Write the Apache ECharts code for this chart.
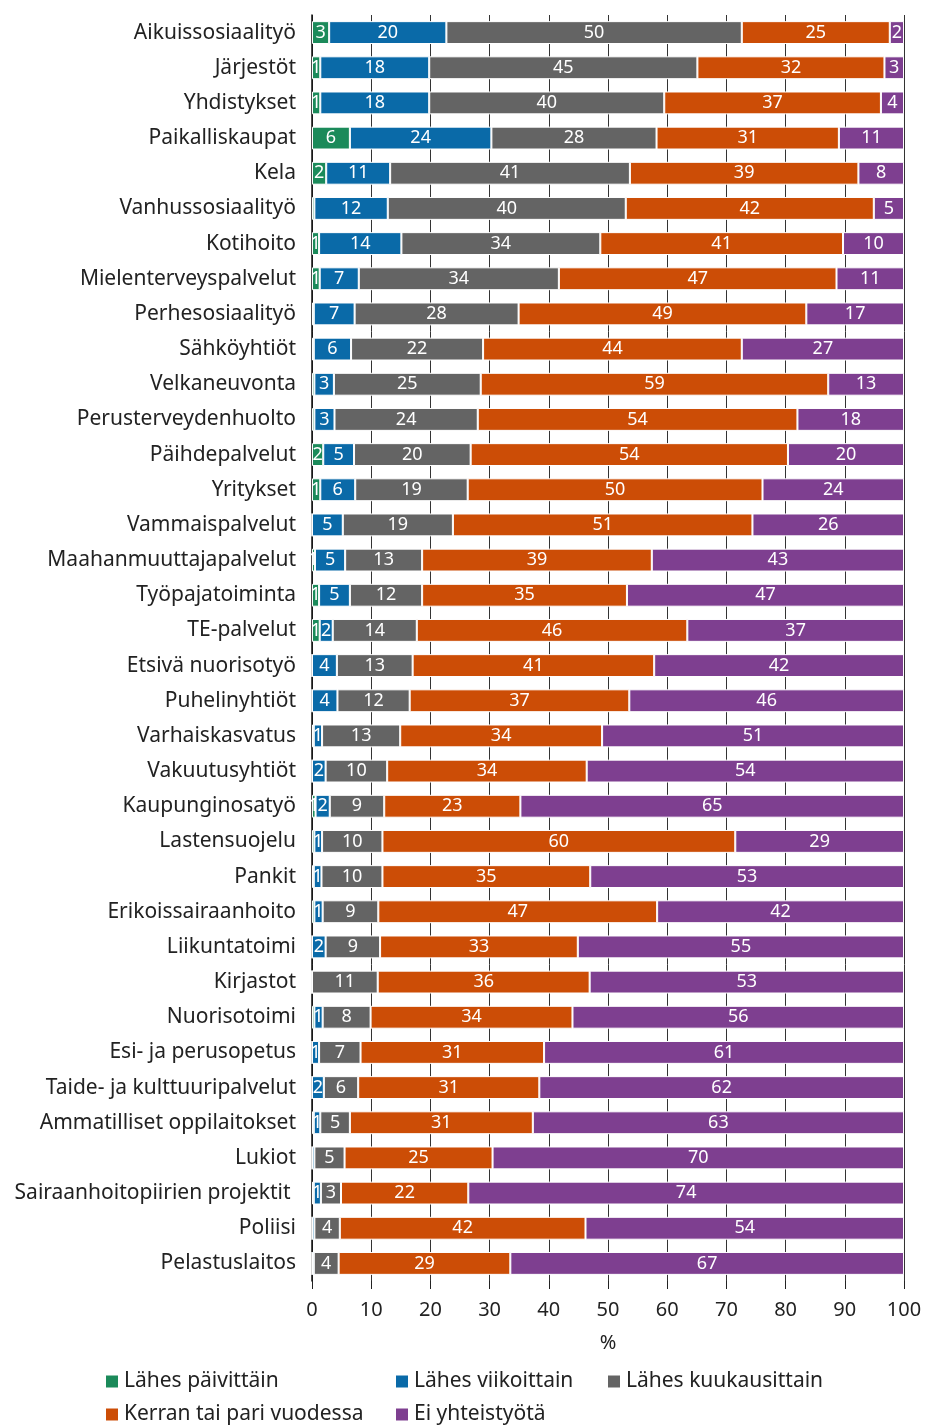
<!DOCTYPE html>
<html>
<head>
<meta charset="utf-8">
<script src="https://cdn.jsdelivr.net/npm/echarts@6/dist/echarts.min.js"></script>
<style>
  html, body { margin: 0; padding: 0; background: #fff; }
  #chart { width: 925px; height: 1426px; }
</style>
</head>
<body>
<div id="chart"></div>
<script>
// Yhteistyön tiheys eri tahojen kanssa (% vastaajista)
const categories = [
  'Aikuissosiaalityö', 'Järjestöt', 'Yhdistykset', 'Paikalliskaupat', 'Kela',
  'Vanhussosiaalityö', 'Kotihoito', 'Mielenterveyspalvelut', 'Perhesosiaalityö',
  'Sähköyhtiöt', 'Velkaneuvonta', 'Perusterveydenhuolto', 'Päihdepalvelut',
  'Yritykset', 'Vammaispalvelut', 'Maahanmuuttajapalvelut', 'Työpajatoiminta',
  'TE-palvelut', 'Etsivä nuorisotyö', 'Puhelinyhtiöt', 'Varhaiskasvatus',
  'Vakuutusyhtiöt', 'Kaupunginosatyö', 'Lastensuojelu', 'Pankit',
  'Erikoissairaanhoito', 'Liikuntatoimi', 'Kirjastot', 'Nuorisotoimi',
  'Esi- ja perusopetus', 'Taide- ja kulttuuripalvelut', 'Ammatilliset oppilaitokset',
  'Lukiot', 'Sairaanhoitopiirien projektit ', 'Poliisi', 'Pelastuslaitos'
];

const seriesNames = [
  'Lähes päivittäin', 'Lähes viikoittain', 'Lähes kuukausittain',
  'Kerran tai pari vuodessa', 'Ei yhteistyötä'
];

const daily = [
  2.9, 1.4, 1.4, 6.4, 2.4, 0.4, 1.2, 1.3, 0.3, 0.3, 0.4, 0.4, 1.9, 1.4, 0,
  0.5, 1.2, 1.3, 0, 0, 0.3, 0, 0.6, 0.4, 0.3, 0.4, 0, 0, 0.4, 0, 0, 0.3,
  0, 0.3, 0, 0
];
const weekly = [
  19.8, 18.4, 18.4, 23.9, 10.8, 12.4, 13.9, 6.6, 6.9, 6.3, 3.3, 3.4, 5.2, 5.9, 5.2,
  5.1, 5.2, 2.2, 4.2, 4.3, 1.4, 2.3, 2.4, 1.3, 1.3, 1.4, 2.3, 0, 1.4, 1.2, 2.0, 1.1,
  0.4, 1.2, 0.4, 0.3
];
const monthly = [
  49.9, 45.3, 39.7, 27.9, 40.5, 40.2, 33.6, 33.8, 27.7, 22.3, 24.8, 24.2, 19.7, 19.0, 18.6,
  13.0, 12.2, 14.2, 12.8, 12.2, 13.2, 10.4, 9.2, 10.2, 10.3, 9.4, 9.2, 11.1, 8.1, 7.0, 5.8, 5.0,
  5.1, 3.4, 4.3, 4.2
];
const yearly = [
  25.0, 31.6, 36.6, 30.8, 38.6, 41.9, 41.0, 46.9, 48.6, 43.7, 58.7, 54.0, 53.6, 49.8, 50.6,
  38.8, 34.6, 45.7, 40.8, 37.1, 34.1, 33.7, 23.0, 59.6, 35.1, 47.1, 33.4, 35.8, 34.1, 31.0, 30.6, 30.9,
  25.0, 21.5, 41.5, 29.0
];
const none = [
  2.4, 3.3, 3.9, 11.0, 7.7, 5.1, 10.3, 11.4, 16.5, 27.4, 12.8, 18.0, 19.6, 23.9, 25.6,
  42.6, 46.8, 36.6, 42.2, 46.4, 51.0, 53.6, 64.8, 28.5, 53.0, 41.7, 55.1, 53.1, 56.0, 60.8, 61.6, 62.7,
  69.5, 73.6, 53.8, 66.5
];

const xTicks = [0, 10, 20, 30, 40, 50, 60, 70, 80, 90, 100];

const colors = ['#1b8a5a', '#0a6aa8', '#646464', '#cc4d06', '#7e3f90'];
const FONT = 'Noto Sans';

const seriesData = [daily, weekly, monthly, yearly, none];

const series = seriesNames.map((name, i) => ({
  name,
  type: 'bar',
  stack: 'total',
  barCategoryGap: '35%',
  data: seriesData[i],
  itemStyle: { color: colors[i], borderColor: '#ffffff', borderWidth: 1 },
  label: {
    show: true,
    position: 'inside',
    color: '#ffffff',
    fontFamily: FONT,
    fontSize: 18,
    formatter: p => {
      const r = Math.round(p.value);
      return r > 0 ? String(r) : '';
    }
  },
  emphasis: { disabled: true }
}));

// One legend block per item to place them in columns
const legendPos = [
  { left: 99, top: 1366 },
  { left: 389, top: 1366 },
  { left: 601, top: 1366 },
  { left: 99, top: 1399 },
  { left: 389, top: 1399 }
];
const legends = seriesNames.map((name, i) => ({
  data: [name],
  left: legendPos[i].left,
  top: legendPos[i].top,
  itemWidth: 14,
  itemHeight: 14,
  icon: 'rect',
  selectedMode: false,
  textStyle: { fontFamily: FONT, fontSize: 21, color: '#222' }
}));

const chart = echarts.init(document.getElementById('chart'), null, { renderer: 'canvas' });
chart.setOption({
  animation: false,
  color: colors,
  legend: legends,
  grid: { left: 312, right: 21, top: 15, bottom: 145, containLabel: false },
  xAxis: {
    type: 'value',
    min: xTicks[0],
    max: xTicks[xTicks.length - 1],
    interval: 10,
    name: '%',
    nameLocation: 'middle',
    nameGap: 52,
    nameTextStyle: { fontFamily: FONT, fontSize: 20, color: '#222' },
    axisLine: { show: false },
    axisTick: { show: true, length: 8, lineStyle: { color: '#222' } },
    axisLabel: { fontFamily: FONT, fontSize: 20, color: '#222', margin: 19 },
    splitLine: { show: true, lineStyle: { color: '#333', width: 1 } }
  },
  yAxis: {
    type: 'category',
    data: categories,
    inverse: true,
    axisLine: { show: true, lineStyle: { color: '#111', width: 1.5 } },
    axisTick: { show: false },
    axisLabel: { fontFamily: FONT, fontSize: 21, color: '#222', margin: 16 }
  },
  series
});
</script>
</body>
</html>
